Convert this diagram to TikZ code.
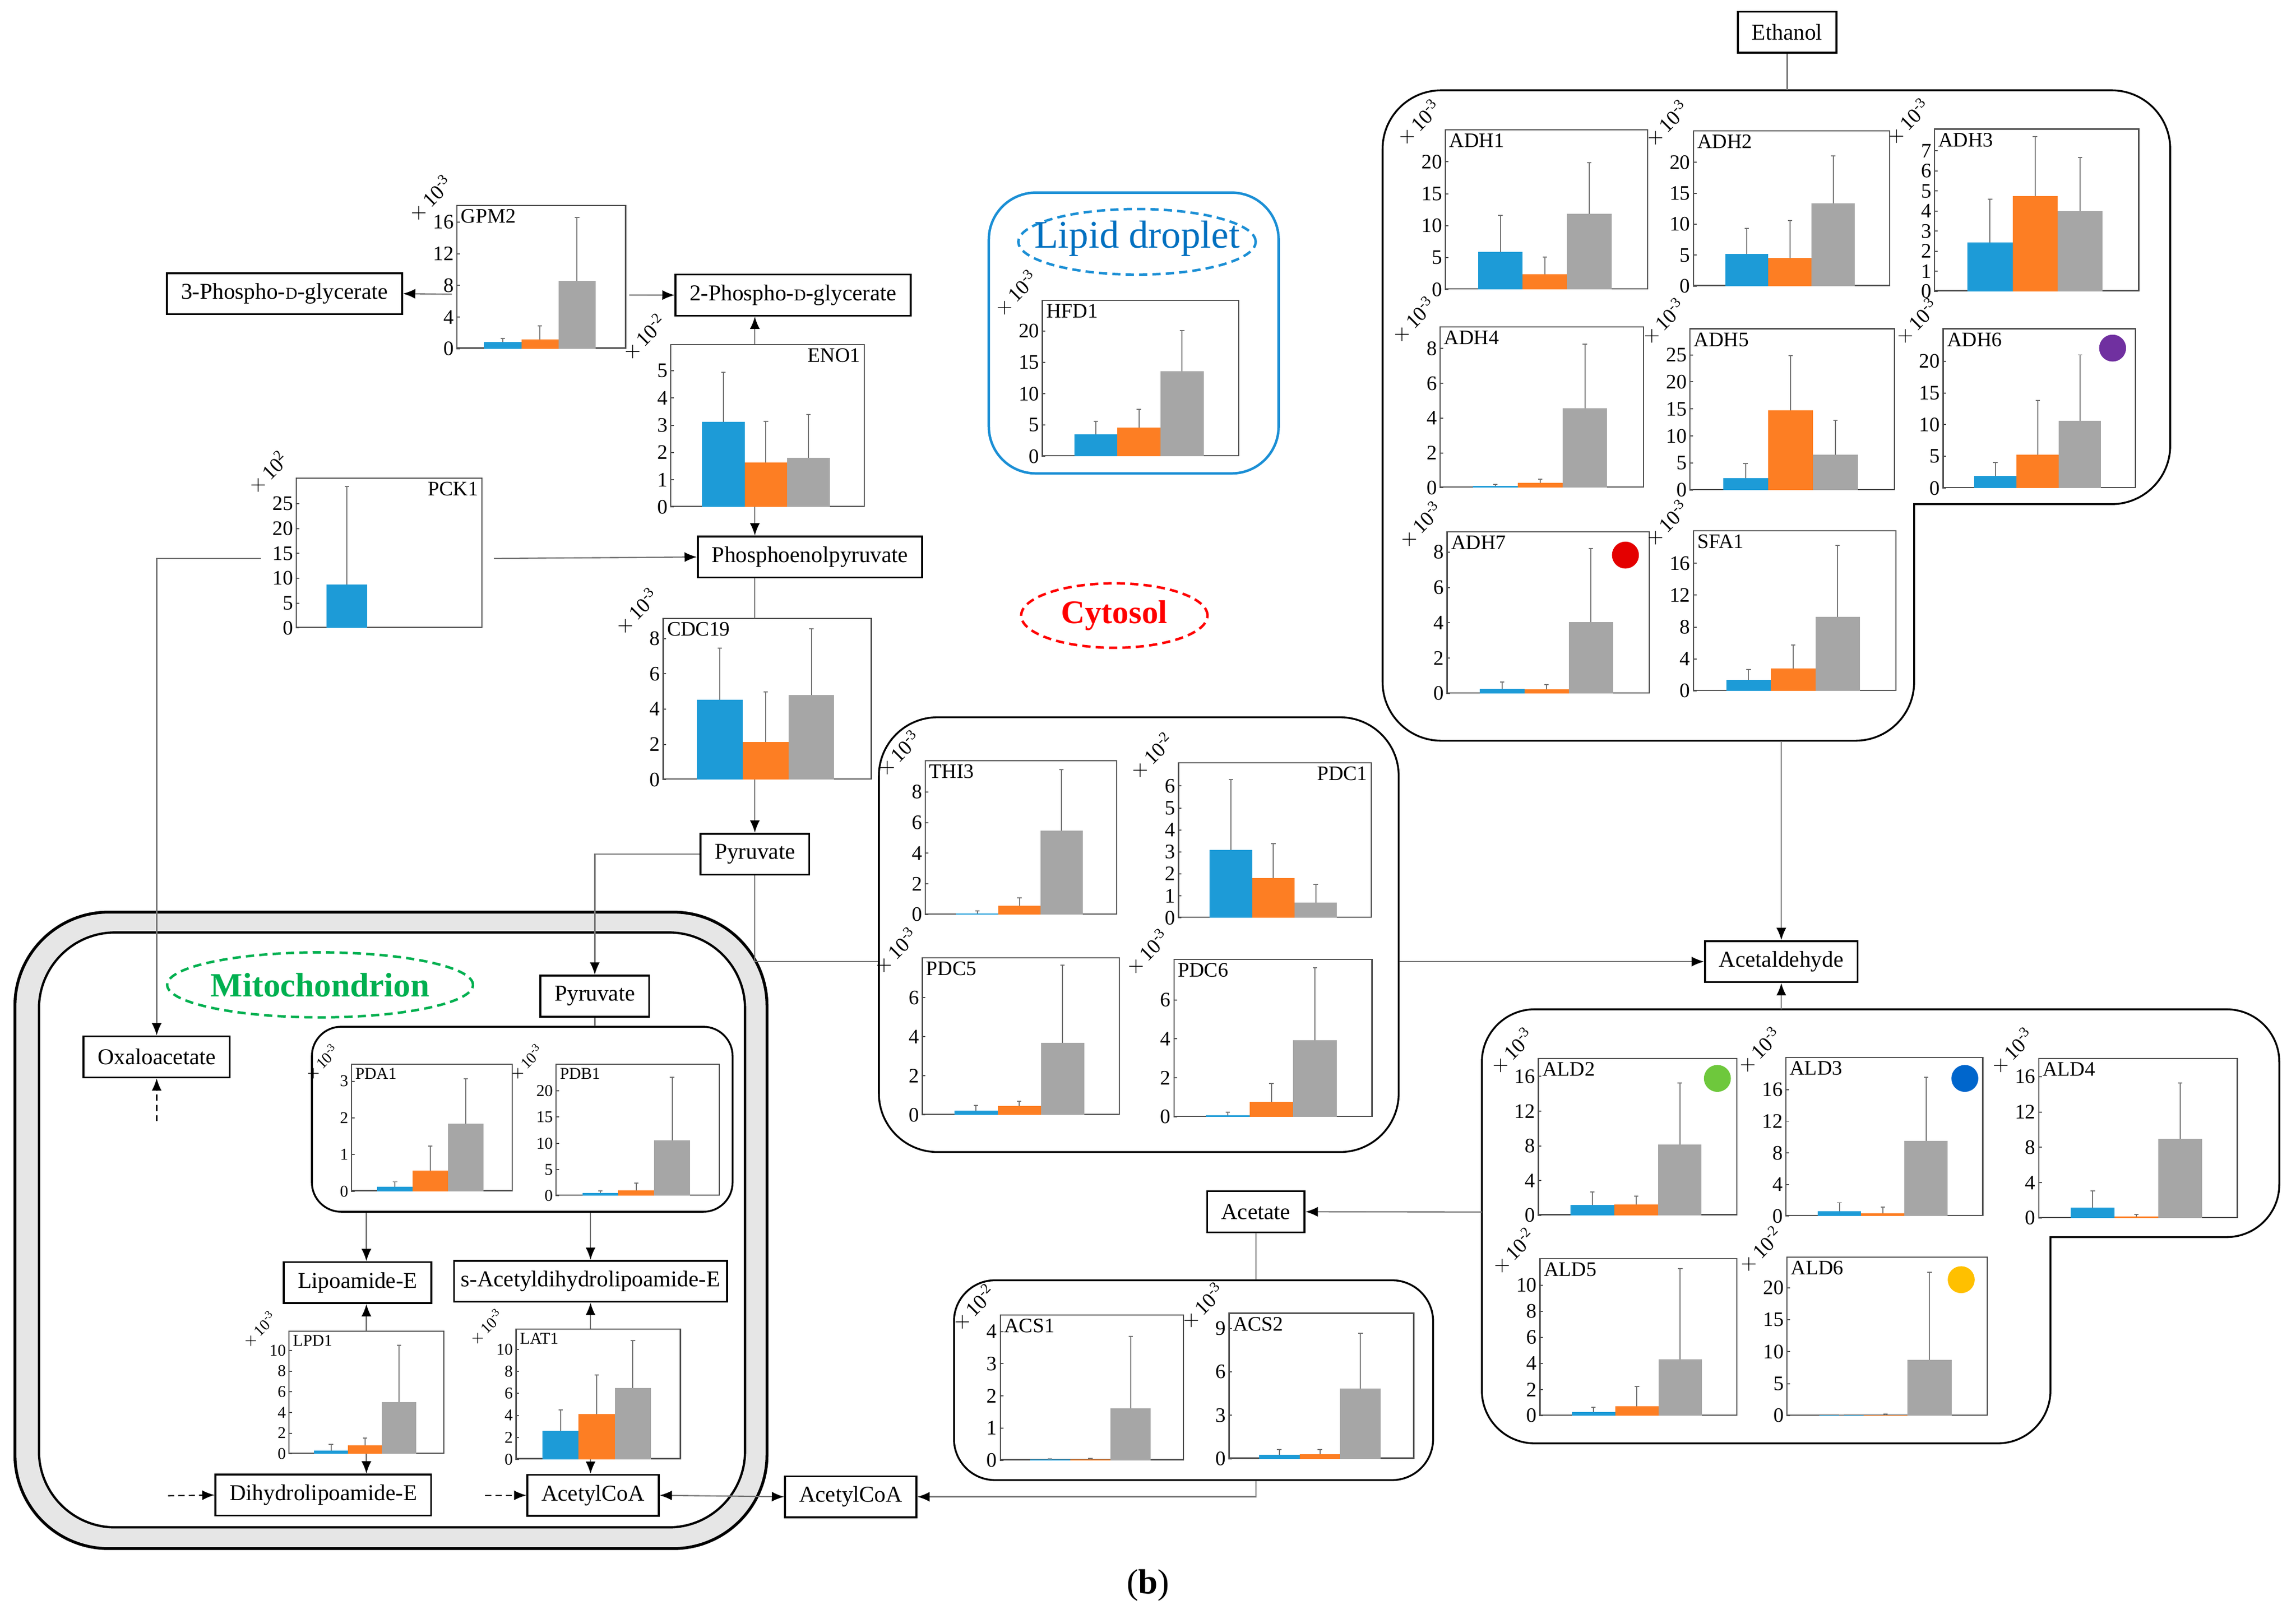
\documentclass[tikz,border=0pt]{standalone}
\usepackage{fontspec}
\setmainfont{Liberation Serif}
\usetikzlibrary{arrows.meta}

\definecolor{barc0}{RGB}{29,155,215}
\definecolor{barc1}{RGB}{253,126,35}
\definecolor{barc2}{RGB}{166,166,166}
\definecolor{lipidblue}{RGB}{27,143,213}
\definecolor{lipidtext}{RGB}{0,112,192}
\definecolor{mitogreen}{RGB}{0,176,80}
\definecolor{membrane}{RGB}{230,230,230}
\definecolor{dotpurple}{RGB}{112,48,160}
\definecolor{dotred}{RGB}{228,0,0}
\definecolor{dotgreen}{RGB}{110,200,60}
\definecolor{dotblue}{RGB}{0,102,204}
\definecolor{dotyellow}{RGB}{255,192,0}

\newcommand{\px}{0.025cm}

\tikzset{
  box/.style={draw, line width=0.9pt, fill=white, font=\fontsize{11}{13}\selectfont,
    minimum height=0.7cm, inner xsep=0.24cm, inner ysep=0pt},
  frame/.style={draw=black!70, line width=0.6pt, fill=white, inner sep=0pt},
  tickline/.style={draw=black!70, line width=0.5pt},
  errbar/.style={draw=black!55, line width=0.5pt},
  ticklab/.style={font=\fontsize{10}{10}\selectfont, inner sep=1pt},
  chartlab/.style={font=\fontsize{10}{12}\selectfont, inner sep=2pt},
  explab/.style={font=\fontsize{10}{10}\selectfont, rotate=45, anchor=south west, inner sep=0pt},
  grp/.style={draw, line width=0.9pt, inner sep=0pt},
  link/.style={draw=black!55, line width=0.6pt},
  dotlink/.style={->, draw=black, densely dashed, line width=0.6pt},
}

% one bar chart: name, top left corner, width, height, axis top, ticks, bars, label anchor, exponent
\newcommand{\chart}[9]{%
  \node[frame, anchor=north west, minimum width=#3*\px, minimum height=#4*\px] (#1) at (#2) {};
  \begin{scope}[shift={(#1.south west)}]
    \foreach \v/\e [count=\i from 0] in {#7} {
      \fill[fill=barc\i] ({#3*(0.165+0.22*\i)},0) rectangle ({#3*(0.385+0.22*\i)},{-#4*\v/#5});
      \ifdim\e pt>\v pt
        \draw[errbar] ({#3*(0.275+0.22*\i)},{-#4*\v/#5}) -- ({#3*(0.275+0.22*\i)},{-#4*\e/#5})
          ++(-1.5,0) -- ++(3,0);
      \fi
    }
    \foreach \tk in {#6}
      \draw[tickline] (0,{-#4*\tk/#5}) -- ++(2.5,0) node[ticklab, pos=0, anchor=east] {\tk};
  \end{scope}
  \node[chartlab, anchor=#8] at (#1.#8) {#1};
  \node[explab] at ([shift={(-26,13)}]#1.north west) {$\times$\,10\textsuperscript{#9}};
}

\begin{document}
\begin{tikzpicture}[x=\px, y=-\px, >={Latex[length=6pt,width=4.8pt,color=black]}]
  \useasboundingbox (0,0) rectangle (1568,1106);

  % mitochondrion membranes
  \node[grp, line width=1.4pt, fill=membrane, rounded corners=1.6cm,
    minimum width=513.6*\px, minimum height=434.8*\px] (mitoout) at (267,840.5) {};
  \node[grp, line width=1.1pt, fill=white, rounded corners=1.3cm,
    minimum width=482.2*\px, minimum height=406.4*\px] (mitoin) at (267.7,840.2) {};
  \draw[mitogreen, line width=1.2pt, dash pattern=on 4pt off 2.5pt]
    (218.6,672.8) ellipse [x radius=2.61cm, y radius=0.555cm];
  \node[text=mitogreen, font=\bfseries\fontsize{16.5}{18}\selectfont] (mitolab) at (218.6,672.8) {Mitochondrion};

  % lipid droplet
  \node[grp, draw=lipidblue, line width=1.2pt, rounded corners=0.8cm,
    minimum width=197.9*\px, minimum height=191.8*\px] (lipid) at (774.25,227.5) {};
  \draw[lipidblue, line width=1.2pt, dash pattern=on 4pt off 2.5pt]
    (776.5,165.2) ellipse [x radius=2.025cm, y radius=0.56cm];
  \node[text=lipidtext, font=\fontsize{19}{20}\selectfont] (lipidlab) at (776.5,163) {Lipid droplet};

  % cytosol label
  \draw[red, line width=1.2pt, dash pattern=on 4pt off 2.5pt]
    (761,420.5) ellipse [x radius=1.59cm, y radius=0.55cm];
  \node[text=red, font=\bfseries\fontsize{16}{18}\selectfont] (cytolab) at (761,420.5) {Cytosol};

  % enzyme groups
  \node[grp, rounded corners=1cm, minimum width=355*\px, minimum height=297*\px] (pdc) at (777.7,638.5) {};
  \node[grp, rounded corners=0.7cm, minimum width=327.2*\px, minimum height=136.5*\px] (acs) at (815.1,942.85) {};
  \node[grp, rounded corners=0.5cm, minimum width=287.3*\px, minimum height=126.4*\px] (pdagrp) at (356.65,764.6) {};
  \draw[grp, rounded corners=1cm] (944.2,300) -- (944.2,61.7) -- (1482.1,61.7) -- (1482.1,344.4)
    [sharp corners] -- (1307.2,344.4) [rounded corners=1cm] -- (1307.2,506) -- (944.2,506) -- cycle;
  \draw[grp, rounded corners=0.9cm] (1012,800) -- (1012,689.5) -- (1556.6,689.5) -- (1556.6,845.1)
    [sharp corners] -- (1400.3,845.1) [rounded corners=0.9cm] -- (1400.3,986) -- (1012,986) -- cycle;
  \coordinate (adhtop) at (1220.5,61.7);
  \coordinate (adhbot) at (1216.5,506);
  \coordinate (aldtop) at (1216.5,689.5);
  \coordinate (aldleft) at (1012,828);

  % metabolites
  \node[box] (ethanol) at (1220.5,22) {Ethanol};
  \node[box] (pg3) at (194.3,200.6) {3-Phospho-{\fontsize{8}{8}\selectfont D}-glycerate};
  \node[box] (pg2) at (541.6,201.6) {2-Phospho-{\fontsize{8}{8}\selectfont D}-glycerate};
  \node[box] (pep) at (553.2,380.5) {Phosphoenolpyruvate};
  \node[box] (pyr) at (515.5,583.5) {Pyruvate};
  \node[box] (acald) at (1216.5,656.9) {Acetaldehyde};
  \node[box] (acetate) at (857.7,827.8) {Acetate};
  \node[box] (acoa) at (581,1022.5) {AcetylCoA};
  \node[box] (mpyr) at (406.2,680.5) {Pyruvate};
  \node[box] (oxa) at (107,722) {Oxaloacetate};
  \node[box] (lipo) at (244.2,876.2) {Lipoamide-E};
  \node[box, inner xsep=0.12cm] (sacet) at (403.3,875.3) {s-Acetyldihydrolipoamide-E};
  \node[box] (dihyd) at (220.8,1021.3) {Dihydrolipoamide-E};
  \node[box] (macoa) at (405,1021.5) {AcetylCoA};

  % charts
  \chart{GPM2}{311.7,140}{115.2}{97.4}{18}{0,4,...,16}{0.83/1.33, 1.2/2.9, 8.55/16.6}{north west}{-3}
  \chart{ENO1}{457.6,235}{132.2}{110.5}{5.94}{0,1,...,5}{3.13/4.94, 1.64/3.15, 1.8/3.39}{north east}{-2}
  \chart{PCK1}{202,326.2}{126.8}{101.9}{30}{0,5,...,25}{8.7/28.4, 0/0, 0/0}{north east}{2}
  \chart{CDC19}{452.5,422.1}{142.1}{109.7}{9.1}{0,2,...,8}{4.53/7.46, 2.13/4.98, 4.81/8.54}{north west}{-3}
  \chart{HFD1}{711.5,204.8}{134}{106.1}{24.8}{0,5,...,20}{3.49/5.56, 4.63/7.5, 13.6/20.1}{north west}{-3}
  \chart{ADH1}{986.7,88.3}{138}{108.7}{24.9}{0,5,...,20}{5.95/11.6, 2.43/5.07, 11.9/19.9}{north west}{-3}
  \chart{ADH2}{1156.1,88.9}{134}{105.7}{25}{0,5,...,20}{5.17/9.3, 4.55/10.6, 13.4/21}{north west}{-3}
  \chart{ADH3}{1320.7,87.7}{139.5}{110.5}{8.06}{0,1,...,7}{2.43/4.6, 4.74/7.7, 3.99/6.66}{north west}{-3}
  \chart{ADH4}{983.1,223}{138.8}{109.3}{9.2}{0,2,...,8}{0.1/0.2, 0.27/0.5, 4.57/8.25}{north west}{-3}
  \chart{ADH5}{1153.7,224.2}{139.6}{109.8}{29.7}{0,5,...,25}{2.24/4.95, 14.7/24.9, 6.55/12.9}{north west}{-3}
  \chart{ADH6}{1326.6,224.2}{131.3}{108.4}{25}{0,5,...,20}{1.9/4, 5.3/13.8, 10.6/21}{north west}{-3}
  \chart{ADH7}{987.9,363}{137.9}{109.9}{9.1}{0,2,...,8}{0.27/0.66, 0.24/0.49, 4.03/8.2}{north west}{-3}
  \chart{SFA1}{1156.1,362.1}{138.3}{109}{20}{0,4,...,16}{1.4/2.65, 2.8/5.73, 9.3/18.2}{north west}{-3}
  \chart{THI3}{631.5,519.3}{130.7}{104.6}{10}{0,2,...,8}{0.07/0.23, 0.57/1.1, 5.48/9.48}{north west}{-3}
  \chart{PDC1}{804.4,520.8}{131.7}{105.3}{7.02}{0,1,...,6}{3.1/6.3, 1.8/3.38, 0.68/1.52}{north east}{-2}
  \chart{PDC5}{629.5,654}{134.4}{106.8}{8}{0,2,...,6}{0.22/0.5, 0.46/0.7, 3.68/7.66}{north west}{-3}
  \chart{PDC6}{801.3,655}{135.3}{107.1}{8.04}{0,2,...,6}{0.07/0.25, 0.76/1.72, 3.94/7.65}{north west}{-3}
  \chart{ACS1}{682.7,897.8}{125.1}{98.9}{4.5}{0,1,...,4}{0.02/0.04, 0.02/0.05, 1.62/3.85}{north west}{-2}
  \chart{ACS2}{839,896.7}{126}{99}{10}{0,3,...,9}{0.28/0.64, 0.33/0.64, 4.84/8.65}{north west}{-3}
  \chart{ALD2}{1050.2,722.6}{135.6}{106.8}{18}{0,4,...,16}{1.19/2.72, 1.26/2.22, 8.16/15.25}{north west}{-3}
  \chart{ALD3}{1219.2,722}{134.5}{107.9}{20}{0,4,...,16}{0.63/1.7, 0.34/1.14, 9.5/17.6}{north west}{-3}
  \chart{ALD4}{1391.9,722.6}{135.6}{108.6}{18}{0,4,...,16}{1.17/3.05, 0.15/0.38, 8.95/15.26}{north west}{-3}
  \chart{ALD5}{1051.3,859.4}{134.5}{106.8}{12}{0,2,...,10}{0.26/0.64, 0.72/2.23, 4.3/11.3}{north west}{-2}
  \chart{ALD6}{1220,858.3}{136.7}{107.9}{24.7}{0,5,...,20}{0.05/0.06, 0.05/0.2, 8.75/22.4}{north west}{-2}
  \begin{scope}[ticklab/.append style={font=\fontsize{8}{8}\selectfont},
      chartlab/.append style={font=\fontsize{8}{9}\selectfont},
      explab/.append style={font=\fontsize{7.5}{7.5}\selectfont}]
    \chart{PDA1}{239.6,726.5}{109.7}{86.5}{3.45}{0,1,...,3}{0.12/0.26, 0.56/1.23, 1.84/3.07}{north west}{-3}
    \chart{PDB1}{379.3,726.5}{111.5}{89.5}{25}{0,5,...,20}{0.5/0.9, 1.0/2.4, 10.6/22.6}{north west}{-3}
    \chart{LPD1}{197,909}{105.6}{83.3}{11.8}{0,2,...,10}{0.3/0.9, 0.8/1.5, 5.0/10.5}{north west}{-3}
    \chart{LAT1}{352,907.5}{112.2}{88.6}{11.8}{0,2,...,10}{2.6/4.5, 4.1/7.7, 6.5/10.8}{north west}{-3}
  \end{scope}

  % marker dots
  \fill[dotpurple] ([shift={(-16,13.6)}]ADH6.north east) circle [radius=0.23cm];
  \fill[dotred] ([shift={(-16.6,16.2)}]ADH7.north east) circle [radius=0.23cm];
  \fill[dotgreen] ([shift={(-13.8,14.1)}]ALD2.north east) circle [radius=0.23cm];
  \fill[dotblue] ([shift={(-12.7,14.7)}]ALD3.north east) circle [radius=0.23cm];
  \fill[dotyellow] ([shift={(-18.2,15.9)}]ALD6.north east) circle [radius=0.23cm];

  % glycolysis
  \coordinate (gpmleft) at (308.6,201);
  \coordinate (gpmright) at (429.7,201.5);
  \draw[link, ->] (gpmleft) -- (pg3.east);
  \draw[link, ->] (gpmright) -- (pg2.west);
  \draw[link, ->] (ENO1.north -| pyr) -- (pg2.south -| pyr);
  \draw[link, ->] (ENO1.south -| pyr) -- (pep.north -| pyr);
  \draw[link] (pep.south -| pyr) -- (CDC19.north -| pyr);
  \draw[link, ->] (CDC19.south -| pyr) -- (pyr.north);
  \coordinate (pckleft) at (178,381.5);
  \coordinate (pckright) at (337.3,381.5);
  \draw[link, ->] (pckright) -- (pep.west);
  \draw[link, ->] (pckleft) -| (oxa.north);
  \coordinate (oxain) at (107,766);
  \draw[dotlink] (oxain) -- (oxa.south);

  % pyruvate to acetaldehyde, ethanol, acetate
  \draw[link] (pyr.south) |- (pdc.west |- acald.west);
  \draw[link, ->] (pdc.east |- acald.west) -- (acald.west);
  \draw[link] (ethanol.south) -- (adhtop);
  \draw[link, ->] (adhbot) -- (acald.north);
  \draw[link, ->] (aldtop) -- (acald.south);
  \draw[link, ->] (aldleft) -- (acetate.east);
  \draw[link] (acetate.south) -- (acetate.south |- acs.north);
  \draw[link, ->] (acetate.south |- acs.south) |- (acoa.east);
  \draw[link, <->] (macoa.east) -- (acoa.west);

  % mitochondrion
  \draw[link, ->] (pyr.west) -| (mpyr.north);
  \draw[link] (mpyr.south) -- (mpyr.south |- pdagrp.north);
  \draw[link, ->] (pdagrp.south -| LPD1.north) -- (lipo.north -| LPD1.north);
  \draw[link, ->] (pdagrp.south -| sacet.north) -- (sacet.north);
  \draw[link, ->] (LPD1.north) -- (LPD1.north |- lipo.south);
  \draw[link, ->] (LPD1.south) -- (LPD1.south |- dihyd.north);
  \draw[link, ->] (LAT1.north -| sacet.south) -- (sacet.south);
  \draw[link, ->] (LAT1.south -| sacet.south) -- (macoa.north -| sacet.south);
  \coordinate (dihydin) at (114.8,1021.8);
  \coordinate (macoain) at (331.3,1021.5);
  \draw[dotlink] (dihydin) -- (dihyd.west);
  \draw[dotlink] (macoain) -- (macoa.west);

  \node[font=\fontsize{17}{18}\selectfont] (panel) at (784,1083) {(\textbf{b})};
\end{tikzpicture}
\end{document}
